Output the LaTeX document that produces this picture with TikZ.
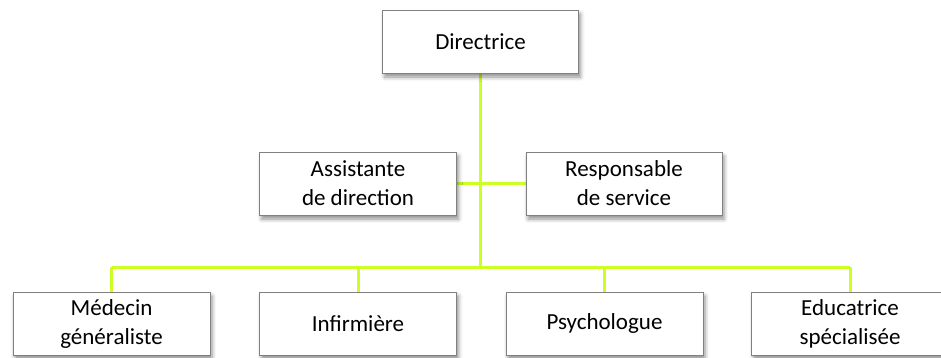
\documentclass[tikz,border=0pt]{standalone}
\usepackage{fontspec}
\setmainfont{Carlito}
\usetikzlibrary{shadows.blur}
\definecolor{lime}{RGB}{204,255,34}
\definecolor{boxline}{RGB}{128,128,128}
\tikzset{
  orgbox/.style={draw=boxline, line width=1pt, fill=white, minimum width=197pt, minimum height=63pt,
    align=center, inner sep=0pt, font=\fontsize{23}{29}\selectfont,
    blur shadow={shadow xshift=2pt, shadow yshift=-4pt, shadow blur radius=4pt, shadow opacity=45}},
  link/.style={draw=lime, line width=3pt}
}
\begin{document}
\begin{tikzpicture}[x=1pt,y=-1pt]
\useasboundingbox (0,0) rectangle (941,357);
\coordinate (bus) at (480,267);
\coordinate (busL) at (111.5,267);
\coordinate (busR) at (850,267);
% connectors
\draw[link] (480,73) coordinate (top) -- (bus);
\draw[link] (busL) -- (busR);
\draw[link] (358,183.5) -- (624,183.5);
\draw[link] (busL) -- (111.5,292);
\draw[link] (358,267) -- (358,292);
\draw[link] (604.5,267) -- (604.5,292);
\draw[link] (busR) -- (850,292);
% boxes
\node[orgbox, minimum width=196pt] (dir) at (480.5,41.5) {Directrice};
\node[orgbox] (ass) at (358,183.5) {Assistante\\de direction};
\node[orgbox, minimum width=196pt] (resp) at (624,183.5) {Responsable\\de service};
\node[orgbox] (med) at (111.5,323.5) {Médecin\\généraliste};
\node[orgbox] (inf) at (358,323.5) {Infirmière};
\node[orgbox] (psy) at (604.5,323.5) {Psychologue};
\node[orgbox] (edu) at (850,323.5) {Educatrice\\spécialisée};
\end{tikzpicture}
\end{document}
